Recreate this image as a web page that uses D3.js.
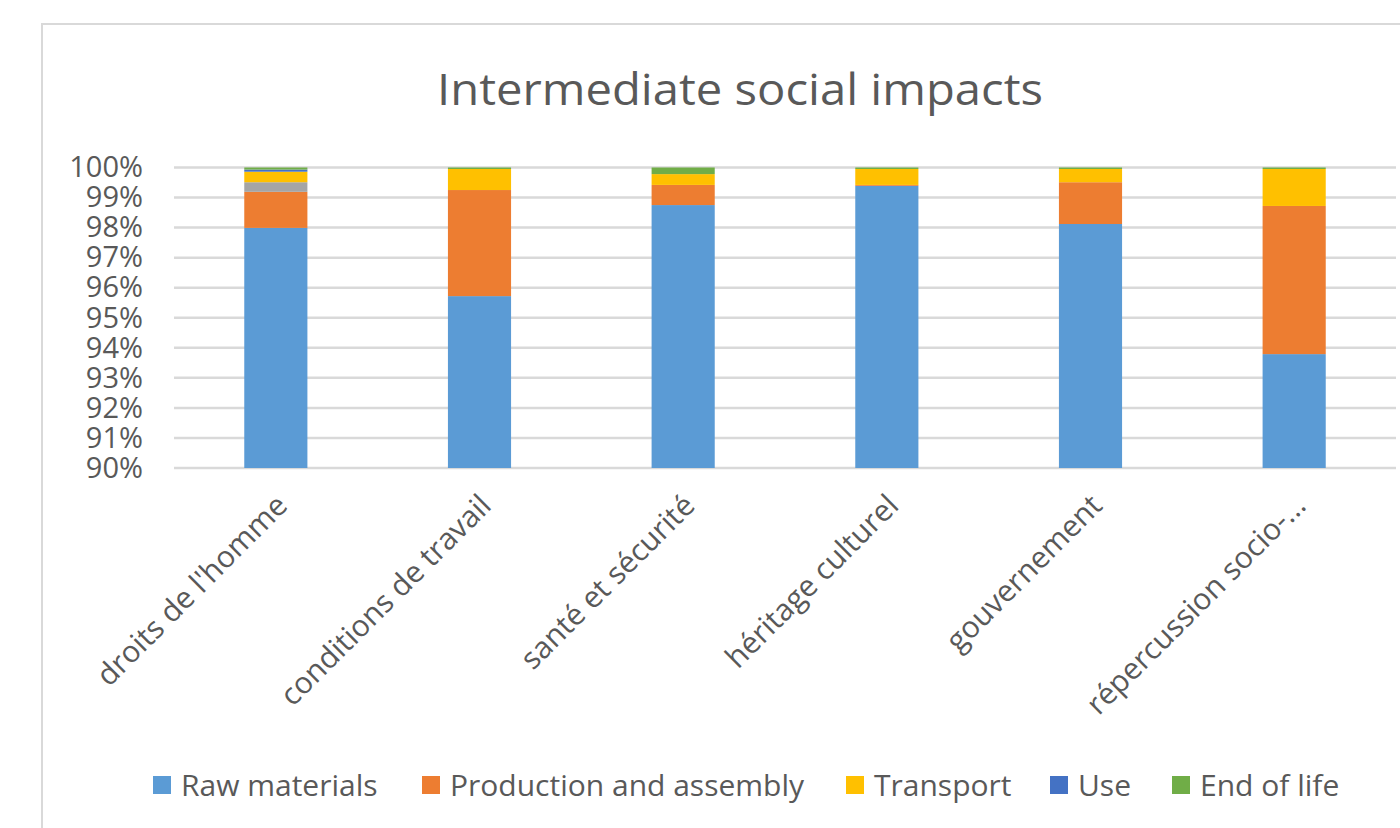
<!DOCTYPE html>
<html lang="en">
<head>
<meta charset="utf-8">
<title>Intermediate social impacts</title>
<script src="https://cdn.jsdelivr.net/npm/d3@7"></script>
<style>
  body { margin: 0; background: #fff; }
  text { font-family: "Open Sans", sans-serif; fill: #595959; }
  .grid line { stroke: #d9d9d9; stroke-width: 2.5; }
</style>
</head>
<body>
<div id="chart"></div>
<script>
// categories and series (values in %, stacked from 0 to 100)
var categories = ["droits de l'homme", "conditions de travail", "santé et sécurité",
                  "héritage culturel", "gouvernement", "répercussion socio-..."];
var seriesNames = ["Raw materials", "Production and assembly", "Other", "Transport", "Use", "End of life"];
var seriesColors = ["#5b9bd5", "#ed7d31", "#a5a5a5", "#ffc000", "#4472c4", "#70ad47"];
var rawMaterials = [97.99, 95.72, 98.75, 99.39, 98.12, 93.79];
var production   = [1.20, 3.53, 0.67, 0.03, 1.39, 4.93];
var other        = [0.32, 0, 0, 0, 0, 0];
var transport    = [0.35, 0.70, 0.36, 0.53, 0.44, 1.23];
var use          = [0.07, 0, 0, 0, 0, 0];
var endOfLife    = [0.07, 0.05, 0.22, 0.05, 0.05, 0.05];
var yTicks = [90, 91, 92, 93, 94, 95, 96, 97, 98, 99, 100];
var legendNames = ["Raw materials", "Production and assembly", "Transport", "Use", "End of life"];

var w = 1400, h = 828;
var margin = {left: 174, right: 4, top: 167.5, bottom: 360};

var svg = d3.select("#chart").append("svg")
  .attr("width", w).attr("height", h);

// chart frame
svg.append("rect")
  .attr("x", 42).attr("y", 24).attr("width", 1400).attr("height", 900)
  .attr("fill", "none").attr("stroke", "#d9d9d9").attr("stroke-width", 2);

svg.append("text")
  .attr("x", 740).attr("y", 105)
  .attr("text-anchor", "middle")
  .attr("font-size", 44)
  .attr("textLength", 606).attr("lengthAdjust", "spacingAndGlyphs")
  .text("Intermediate social impacts");

var table = categories.map(function(c, i) {
  return {cat: c, "Raw materials": rawMaterials[i], "Production and assembly": production[i],
          "Other": other[i], "Transport": transport[i], "Use": use[i], "End of life": endOfLife[i]};
});

var x = d3.scaleBand().domain(categories)
  .range([margin.left, w - margin.right]).paddingInner(0.69).paddingOuter(0.345);
var y = d3.scaleLinear().domain([90, 100]).range([468, margin.top]);
var color = d3.scaleOrdinal().domain(seriesNames).range(seriesColors);

// gridlines
svg.append("g").attr("class", "grid")
  .selectAll("line").data(yTicks).enter().append("line")
  .attr("x1", margin.left).attr("x2", w - margin.right)
  .attr("y1", function(d) { return y(d); }).attr("y2", function(d) { return y(d); });

// y axis labels
var yAxis = svg.append("g")
  .attr("transform", "translate(" + 143 + ",0)")
  .call(d3.axisLeft(y).tickValues(yTicks).tickSize(0).tickPadding(0)
    .tickFormat(function(d) { return d + "%"; }));
yAxis.select(".domain").remove();
yAxis.selectAll("text").attr("font-size", 29).attr("font-family", "Open Sans").attr("fill", "#595959");

// stacked bars
var stack = d3.stack().keys(seriesNames);
var layers = stack(table);
svg.append("g").selectAll("g").data(layers).enter().append("g")
  .attr("fill", function(d) { return color(d.key); })
  .selectAll("rect").data(function(d) { return d; }).enter().append("rect")
  .attr("x", function(d) { return x(d.data.cat); })
  .attr("width", x.bandwidth())
  .attr("y", function(d) { return y(Math.min(d[1], 100)); })
  .attr("height", function(d) { return Math.max(0, y(Math.max(d[0], 90)) - y(Math.min(d[1], 100))); });

// x labels
svg.append("g").selectAll("text").data(categories).enter().append("text")
  .attr("text-anchor", "end")
  .attr("font-size", 30)
  .attr("transform", function(d) {
    return "translate(" + (x(d) + x.bandwidth() / 2 + 6) + ",500) rotate(-45)";
  })
  .attr("dy", "0.35em")
  .text(function(d) { return d; });

// legend
var legendX = [153, 422, 846, 1050, 1172];
var lg = svg.append("g").selectAll("g").data(legendNames).enter().append("g")
  .attr("transform", function(d, i) { return "translate(" + legendX[i] + ",785)"; });
lg.append("rect").attr("x", 0).attr("y", -9).attr("width", 18).attr("height", 18)
  .attr("fill", function(d) { return color(d); });
lg.append("text").attr("x", 28).attr("dy", "0.35em").attr("font-size", 30)
  .text(function(d) { return d; });
</script>
</body>
</html>
